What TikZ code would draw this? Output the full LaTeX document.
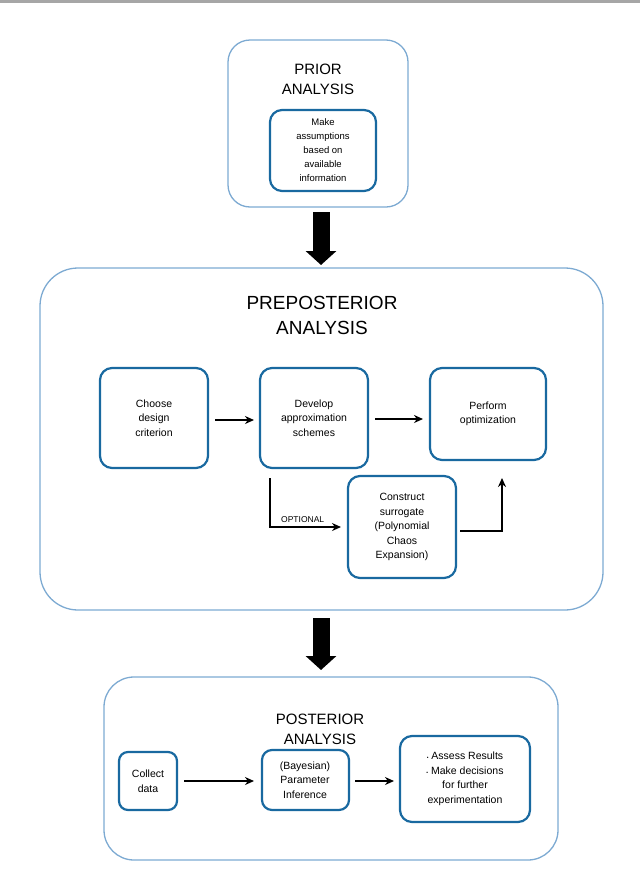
\documentclass[tikz,border=0pt]{standalone}
\usepackage{fontspec}
\setmainfont{Liberation Sans}
\usetikzlibrary{arrows.meta}
\definecolor{outerc}{RGB}{125,170,210}
\definecolor{innerc}{RGB}{25,105,160}
\begin{document}
\begin{tikzpicture}[x=1pt,y=-1pt,
 outer/.style={draw=outerc,line width=1.3pt,rounded corners=22pt},
 inner/.style={draw=innerc,line width=2.2pt,rounded corners=12pt,fill=white},
 txt/.style={align=center,font=\fontsize{10.5}{14.5}\selectfont},
 ttl/.style={align=center,font=\fontsize{15}{20}\selectfont},
 ar/.style={-{Stealth[length=9pt,width=8pt]},line width=1.6pt},
 big/.style={-{Triangle[length=14pt,width=30pt]},line width=17pt}]
\useasboundingbox (0,0) rectangle (640,873);
\fill[gray!70] (0,0) rectangle (640,3);
% prior
\draw[outer] (228,40) rectangle (408,207);
\node[ttl] (pt) at (318,79) {PRIOR\\ANALYSIS};
\draw[inner] (270,110) rectangle (376,191);
\node[txt,font=\fontsize{9.5}{14}\selectfont] (mk) at (323,150) {Make\\assumptions\\based on\\available\\information};
\coordinate (a1s) at (321,212); \coordinate (a1e) at (321,265);
\draw[big] (a1s) -- (a1e);
% preposterior
\draw[outer,rounded corners=38pt] (40,268) rectangle (603,610);
\node[ttl,font=\fontsize{19}{25}\selectfont] (ppt) at (322,315) {PREPOSTERIOR\\ANALYSIS};
\draw[inner] (100,368) rectangle (208,468); \node[txt] (ch) at (154,418) {Choose\\design\\criterion};
\draw[inner] (260,368) rectangle (368,468); \node[txt] (dv) at (314,418) {Develop\\approximation\\schemes};
\draw[inner] (430,368) rectangle (546,460); \node[txt] (pf) at (488,414) {Perform\\optimization};
\draw[inner] (348,476) rectangle (456,578); \node[txt] (cs) at (402,527) {Construct\\surrogate\\(Polynomial\\Chaos\\Expansion)};
\coordinate (chr) at (215,420); \coordinate (dvl) at (254,420);
\draw[ar] (chr) -- (dvl);
\coordinate (dvr) at (375,419); \coordinate (pfl) at (423,419);
\draw[ar] (dvr) -- (pfl);
\coordinate (o1) at (270,478); \coordinate (o2) at (341,527);
\draw[ar] (o1) |- (o2) node[pos=0.73,above,font=\fontsize{8.5}{10}\selectfont] {OPTIONAL};
\coordinate (c1) at (460,531); \coordinate (c2) at (502,478);
\draw[ar] (c1) -| (c2);
\coordinate (a2s) at (321,618); \coordinate (a2e) at (321,670);
\draw[big] (a2s) -- (a2e);
% posterior
\draw[outer,rounded corners=30pt] (104,677) rectangle (558,860);
\node[ttl] (pot) at (320,729) {POSTERIOR\\ANALYSIS};
\draw[inner,rounded corners=9pt] (119,752) rectangle (177,810); \node[txt] (cd) at (148,781) {Collect\\data};
\draw[inner,rounded corners=10pt] (262,750) rectangle (349,810); \node[txt] (bp) at (305,780) {(Bayesian)\\Parameter\\Inference};
\draw[inner] (400,736) rectangle (530,822);
\node[txt,align=center] (as) at (465,779) {{\tiny\textbullet}\ Assess Results\\{\tiny\textbullet}\ Make decisions\\for further\\experimentation};
\coordinate (p1) at (184,781); \coordinate (p2) at (254,781);
\draw[ar] (p1) -- (p2);
\coordinate (p3) at (355,781); \coordinate (p4) at (394,781);
\draw[ar] (p3) -- (p4);
\end{tikzpicture}
\end{document}
